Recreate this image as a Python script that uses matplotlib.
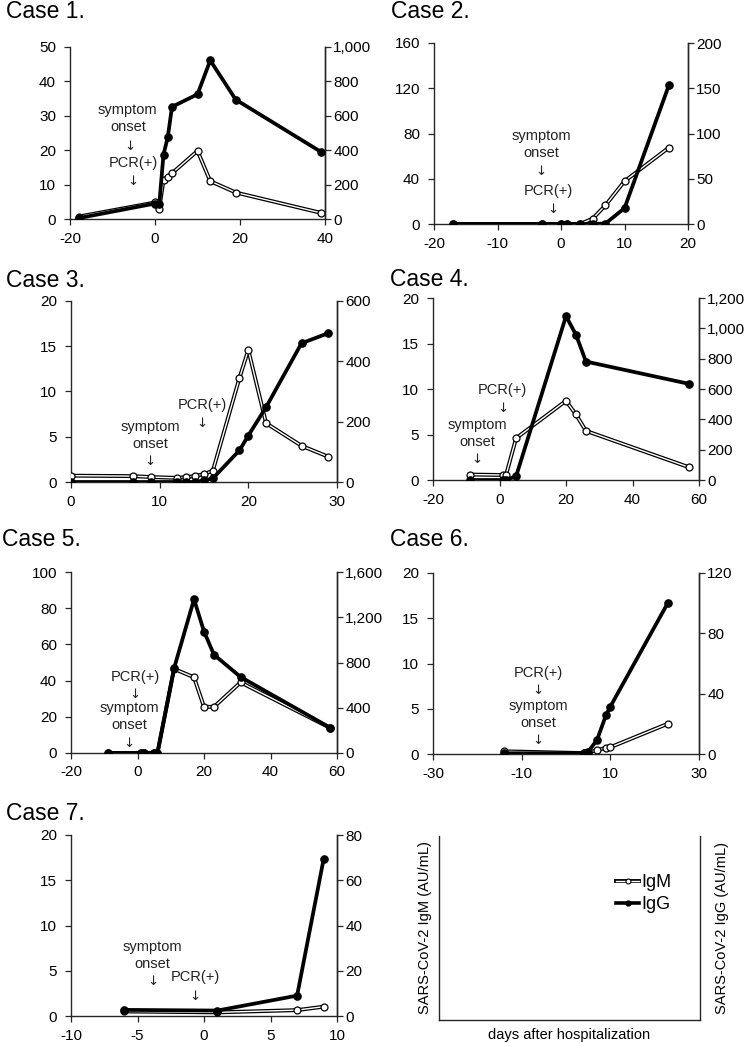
import matplotlib
matplotlib.use("Agg")
import matplotlib.pyplot as plt
from matplotlib.lines import Line2D
from matplotlib.legend_handler import HandlerTuple
from matplotlib.ticker import FuncFormatter

plt.rcParams['font.family'] = ['Liberation Sans', 'DejaVu Sans']
plt.rcParams['font.size'] = 10
plt.rcParams['axes.unicode_minus'] = False

W, H = 747, 1043

# --- data (days after hospitalization, AU/mL) ---
days1 = [-18, 0, 1, 2, 3, 4, 10, 13, 19, 39]
igm1 = [0.7, 4.8, 3.0, 11.3, 12.3, 13.3, 19.8, 11.0, 7.7, 1.8]
igg1 = [5, 90, 85, 375, 475, 652, 725, 922, 694, 391]

days2 = [-17, -3, 0, 1, 3, 5, 7, 10, 17]
igm2 = [0, 0, 0, 0, 0, 4.8, 16.5, 37.8, 67.6]
igg2 = [0, 0, 0, 0, 0, 0, 0.5, 17.5, 153.5]

days3 = [0, 7, 9, 12, 13, 14, 15, 16, 19, 20, 22, 26, 29]
igm3 = [0.7, 0.65, 0.55, 0.45, 0.55, 0.65, 0.88, 1.25, 11.5, 14.6, 6.5, 4.0, 2.8]
igg3 = [0, 0, 0, 0, 0, 0, 5, 12, 105, 154, 248, 460, 493]

days4 = [-9, 1, 2, 5, 20, 23, 26, 57]
igm4 = [0.6, 0.55, 0.6, 4.6, 8.7, 7.2, 5.4, 1.4]
igg4 = [0, 0, 0, 25, 1080, 958, 781, 634]

days5 = [-9, 1, 2, 5, 6, 11, 17, 20, 23, 31, 58]
igm5 = [0, 0, 0, 0, 0, 46.5, 41.8, 25.5, 25.5, 39.0, 13.8]
igg5 = [0, 0, 0, 0, 0, 749, 1359, 1074, 869, 672, 223]

days6 = [-14, 4, 5, 7, 9, 10, 23]
igm6 = [0.3, 0.1, 0.2, 0.4, 0.7, 0.75, 3.35]
igg6 = [0.5, 0.5, 1.5, 9.3, 25.6, 31.4, 100.3]

days7 = [-6, 1, 7, 9]
igm7 = [0.5, 0.4, 0.65, 1.03]
igg7 = [2.7, 2.4, 9.0, 69.5]

cases = [
    # title, days, igm, igg, xlim, xstep, igm max, igm step, igg max, igg step
    ("Case 1.", days1, igm1, igg1, (-20, 40), 20, 50, 10, 1000, 200),
    ("Case 2.", days2, igm2, igg2, (-20, 20), 10, 160, 40, 200, 50),
    ("Case 3.", days3, igm3, igg3, (0, 30), 10, 20, 5, 600, 200),
    ("Case 4.", days4, igm4, igg4, (-20, 60), 20, 20, 5, 1200, 200),
    ("Case 5.", days5, igm5, igg5, (-20, 60), 20, 100, 20, 1600, 400),
    ("Case 6.", days6, igm6, igg6, (-30, 30), 20, 20, 5, 120, 40),
    ("Case 7.", days7, igm7, igg7, (-10, 10), 5, 20, 5, 80, 20),
]

# axes boxes in pixels: left, top, right, bottom
boxes = [(70, 47, 325, 219), (434, 43, 688, 224),
         (71, 301, 337, 482), (433, 298, 699, 480),
         (71, 572, 337, 753), (433, 573, 699, 754),
         (71, 835, 337, 1016)]
title_pos = [(6, 12), (391, 12), (6, 280), (390, 279), (2, 539), (390, 539), (6, 813)]

# annotation lines: text, x, y (left-axis units)
notes = [
    [("symptom", -6.5, 31.6), ("onset", -6.3, 26.6), ("↓", -6.0, 21.0), ("PCR(+)", -5.1, 16.2), ("↓", -5.1, 10.8)],
    [("symptom", -3.1, 77.9), ("onset", -3.1, 62.5), ("↓", -3.1, 46), ("PCR(+)", -2.0, 29), ("↓", -1.3, 13)],
    [("symptom", 8.9, 6.1), ("onset", 8.9, 4.2), ("↓", 8.9, 2.3), ("PCR(+)", 14.8, 8.5), ("↓", 14.8, 6.5)],
    [("PCR(+)", 0.8, 9.9), ("↓", 1.0, 7.9), ("symptom", -6.8, 6.0), ("onset", -6.8, 4.2), ("↓", -6.8, 2.3)],
    [("PCR(+)", -0.7, 41.8), ("↓", -0.7, 32.4), ("symptom", -2.5, 24.6), ("onset", -2.5, 15.2), ("↓", -2.5, 5.5)],
    [("PCR(+)", -6.3, 9.0), ("↓", -6.3, 7.0), ("symptom", -6.3, 5.3), ("onset", -6.3, 3.4), ("↓", -6.3, 1.5)],
    [("symptom", -3.86, 7.66), ("onset", -3.86, 5.8), ("↓", -3.86, 3.8), ("PCR(+)", -0.68, 4.35), ("↓", -0.65, 2.2)],
]

AX_COL = '#262626'


def px_box(l, t, r, b):
    return [l / W, 1 - b / H, (r - l) / W, (b - t) / H]


def style(ax):
    ax.spines['top'].set_visible(False)
    for s in ax.spines.values():
        s.set_color(AX_COL)
        s.set_linewidth(1.0)
    ax.tick_params(direction='out', length=4, width=0.9, color=AX_COL, labelsize=11)


fig = plt.figure(figsize=(W / 100, H / 100), dpi=100)

for i, (title, d, igm, igg, xlim, xstep, mmax, mstep, gmax, gstep) in enumerate(cases):
    ax = fig.add_axes(px_box(*boxes[i]))
    style(ax)
    ax.tick_params(axis='y', pad=6)
    ax.tick_params(axis='x', pad=5)
    # IgM: double line (black outline, white core) with open circles
    ax.plot(d, igm, color='black', lw=2.8, solid_joinstyle='round', zorder=2)
    ax.plot(d, igm, color='white', lw=1.0, marker='o', ms=5, mfc='white', mec='black', mew=0.9, zorder=3)
    ax.set_xlim(*xlim)
    ax.set_ylim(0, mmax)
    ax.set_xticks(range(xlim[0], xlim[1] + 1, xstep))
    ax.set_yticks(range(0, mmax + 1, mstep))
    for txt, x, y in notes[i]:
        if txt == "↓":
            ax.text(x, y, txt, ha='center', va='center', fontsize=9.5, color='#222222',
                    family='DejaVu Sans', zorder=5)
        else:
            ax.text(x, y, txt, ha='center', va='center', fontsize=10.5, color='#222222', zorder=5)

    ax2 = ax.twinx()
    style(ax2)
    ax2.tick_params(axis='y', pad=2)
    ax2.spines['left'].set_visible(False)
    ax2.spines['bottom'].set_visible(False)
    ax2.plot(d, igg, color='black', lw=2.7, marker='o', ms=5.2, mfc='black', mec='black', zorder=4)
    ax2.set_ylim(0, gmax)
    ax2.set_yticks(range(0, gmax + 1, gstep))
    ax2.yaxis.set_major_formatter(FuncFormatter(lambda v, p: f"{v:,.0f}"))

    tx, ty = title_pos[i]
    fig.text(tx / W, 1 - ty / H, title, fontsize=16.5, ha='left', va='center')

# legend / axis-label panel
lax = fig.add_axes(px_box(439, 836, 700, 1020))
lax.spines['top'].set_visible(False)
for s in lax.spines.values():
    s.set_color(AX_COL)
    s.set_linewidth(1.0)
lax.set_xticks([])
lax.set_yticks([])
lax.set_ylabel("SARS-CoV-2 IgM (AU/mL)", fontsize=10.5, labelpad=5)
lax.set_xlabel("days after hospitalization", fontsize=10.5, labelpad=6)
lax2 = lax.twinx()
lax2.set_yticks([])
lax2.set_ylabel("SARS-CoV-2 IgG (AU/mL)", fontsize=10.5, labelpad=11)
for s in lax2.spines.values():
    s.set_visible(False)

h_igm = (Line2D([], [], color='black', lw=2.8),
         Line2D([], [], color='white', lw=1.0, marker='o', ms=3.5, mfc='white', mec='black', mew=0.8))
h_igg = Line2D([], [], color='black', lw=2.6, marker='o', ms=3.5, mfc='black', mec='black')
lax.legend([h_igm, h_igg], ["IgM", "IgG"], handler_map={tuple: HandlerTuple(ndivide=1, pad=0)},
           loc='upper left', bbox_to_anchor=((616 - 439) / 261, 1 - (874 - 836) / 184),
           frameon=False, fontsize=13, handlelength=1.3, handletextpad=0.1,
           labelspacing=0.3, borderpad=0, borderaxespad=0)

fig.savefig("out.png", dpi=100)
